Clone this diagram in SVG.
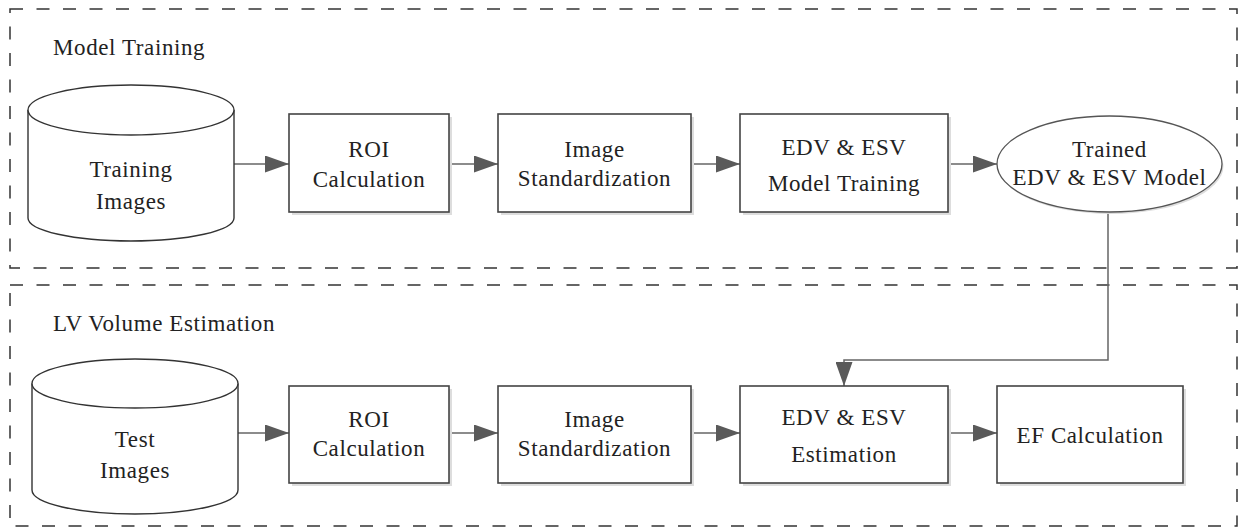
<svg xmlns="http://www.w3.org/2000/svg" width="1238" height="527" viewBox="0 0 1238 527">
<style>
.frame{fill:none;stroke:#333;stroke-width:1.5;stroke-dasharray:13 13.5}
.box{fill:#fff;stroke:#444;stroke-width:1.6}
.shadow{fill:#ddd}
.cyl{fill:#fff;stroke:#333;stroke-width:1.4}
.conn{fill:none;stroke:#666;stroke-width:1.5}
text{font-family:'Liberation Serif','DejaVu Serif','Times New Roman',serif;fill:#222;font-size:23px;letter-spacing:0.6px;text-anchor:middle}
.lbl{text-anchor:start}
</style>
<defs>
<marker id="ah" markerUnits="userSpaceOnUse" markerWidth="24" markerHeight="17" refX="24" refY="8.5" orient="auto">
<path d="M0,0 L24,8.5 L0,17 z" fill="#5a5a5a"/>
</marker>
</defs>
<g id="frame-training">
<rect class="frame" x="10" y="9" width="1227" height="259"/>
<text class="lbl" x="53" y="55">Model Training</text>
</g>
<g id="frame-estimation">
<rect class="frame" x="10" y="285" width="1227" height="241"/>
<text class="lbl" x="53" y="331">LV Volume Estimation</text>
</g>
<g id="connectors">
<path class="conn" d="M234,164 H289" marker-end="url(#ah)"/>
<path class="conn" d="M449,164 H498" marker-end="url(#ah)"/>
<path class="conn" d="M691,164 H740" marker-end="url(#ah)"/>
<path class="conn" d="M948,164 H997" marker-end="url(#ah)"/>
<path class="conn" d="M1108,212 V360 H844 V386" marker-end="url(#ah)"/>
<path class="conn" d="M238,433 H289" marker-end="url(#ah)"/>
<path class="conn" d="M449,433 H498" marker-end="url(#ah)"/>
<path class="conn" d="M691,433 H740" marker-end="url(#ah)"/>
<path class="conn" d="M948,433 H997" marker-end="url(#ah)"/>
</g>
<g id="training-images">
<path class="cyl" d="M28,110 V218 A103,23 0 0 0 234,218 V110"/>
<ellipse class="cyl" cx="131" cy="110" rx="103" ry="25"/>
<text x="131" y="177" font-size="25">Training</text>
<text x="131" y="209" font-size="25">Images</text>
</g>
<g id="roi-train">
<rect class="shadow" x="292" y="117" width="160" height="98"/>
<rect class="box" x="289" y="114" width="160" height="98"/>
<text x="369" y="157">ROI</text>
<text x="369" y="187">Calculation</text>
</g>
<g id="std-train">
<rect class="shadow" x="501" y="117" width="193" height="98"/>
<rect class="box" x="498" y="114" width="193" height="98"/>
<text x="594.5" y="157">Image</text>
<text x="594.5" y="186">Standardization</text>
</g>
<g id="edv-train">
<rect class="shadow" x="743" y="117" width="208" height="98"/>
<rect class="box" x="740" y="114" width="208" height="98"/>
<text x="844" y="155">EDV &amp; ESV</text>
<text x="844" y="191">Model Training</text>
</g>
<g id="trained-model">
<ellipse cx="1111" cy="166" rx="112.5" ry="48" fill="#ddd"/>
<ellipse cx="1109.5" cy="164" rx="112.5" ry="48" fill="#fff" stroke="#555" stroke-width="1.3"/>
<text x="1109.5" y="157">Trained</text>
<text x="1109.5" y="185">EDV &amp; ESV Model</text>
</g>
<g id="test-images">
<path class="cyl" d="M32,383.5 V490 A103,24 0 0 0 238,490 V383.5"/>
<ellipse class="cyl" cx="135" cy="383.5" rx="103" ry="24.5"/>
<text x="135" y="447" font-size="25">Test</text>
<text x="135" y="478" font-size="25">Images</text>
</g>
<g id="roi-test">
<rect class="shadow" x="292" y="389" width="160" height="97"/>
<rect class="box" x="289" y="386" width="160" height="97"/>
<text x="369" y="427">ROI</text>
<text x="369" y="456">Calculation</text>
</g>
<g id="std-test">
<rect class="shadow" x="501" y="389" width="193" height="97"/>
<rect class="box" x="498" y="386" width="193" height="97"/>
<text x="594.5" y="427">Image</text>
<text x="594.5" y="456">Standardization</text>
</g>
<g id="edv-est">
<rect class="shadow" x="743" y="389" width="208" height="97"/>
<rect class="box" x="740" y="386" width="208" height="97"/>
<text x="844" y="425">EDV &amp; ESV</text>
<text x="844" y="462">Estimation</text>
</g>
<g id="ef-calc">
<rect class="shadow" x="1000" y="389" width="186" height="97"/>
<rect class="box" x="997" y="386" width="186" height="97"/>
<text x="1090" y="443">EF Calculation</text>
</g>
</svg>
